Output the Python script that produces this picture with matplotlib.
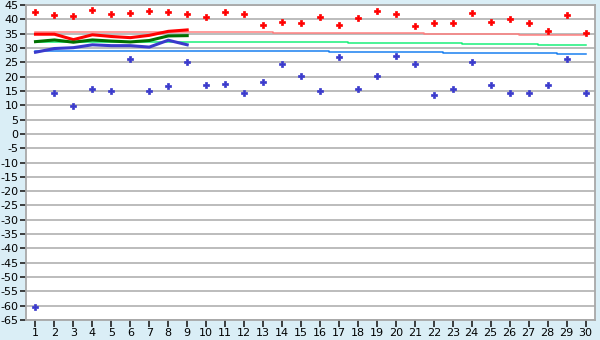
import matplotlib
matplotlib.use("Agg")
import matplotlib.pyplot as plt
import numpy as np

days = list(range(1, 31))
day_labels = [str(d) for d in days]

# daily extremes (markers)
max_pts = [42.4, 41.4, 41.0, 43.1, 41.7, 42.1, 42.8, 42.4, 41.7, 40.7,
           42.4, 41.7, 37.9, 39.0, 38.6, 40.7, 37.9, 40.3, 42.8, 41.7,
           37.6, 38.6, 38.6, 42.1, 39.0, 40.0, 38.6, 35.8, 41.4, 35.1]
min_pts = [-60.6, 14.2, 9.6, 15.5, 14.9, 26.0, 14.9, 16.6, 25.0, 17.0,
           17.3, 14.2, 18.0, 24.3, 20.1, 14.9, 26.7, 15.5, 20.1, 27.1,
           24.3, 13.5, 15.5, 25.0, 17.0, 14.2, 14.2, 17.0, 26.0, 14.2]

# running curves (days 1-9)
curve_days = days[:9]
curve_max = [34.8, 34.8, 32.9, 34.6, 34.0, 33.6, 34.4, 35.8, 36.3]
curve_mean = [32.2, 32.8, 32.0, 32.8, 32.4, 32.1, 32.6, 34.2, 34.3]
curve_min = [28.5, 29.8, 30.1, 31.1, 30.8, 30.8, 30.3, 32.7, 31.1]

# normals (thin step lines)
norm_max = [35.7]*5 + [35.4]*8 + [35.1]*8 + [34.8]*5 + [34.4]*4
norm_mean = [32.0]*17 + [31.6]*6 + [31.3]*4 + [30.9]*3
norm_min = [28.8]*16 + [28.5]*6 + [28.1]*6 + [27.8]*2

yticks = list(range(-65, 50, 5))

bg = "#daeef6"
fig = plt.figure(figsize=(6, 3.4), dpi=100, facecolor=bg)
ax = fig.add_axes([26/600, 1-320/340, (595-26)/600, (320-5)/340])
ax.set_facecolor("white")

ax.plot(days, norm_max, drawstyle="steps-mid", color="#ff8080", lw=1.1, zorder=2)
ax.plot(days, norm_mean, drawstyle="steps-mid", color="#19f07a", lw=1.1, zorder=2)
ax.plot(days, norm_min, drawstyle="steps-mid", color="#1a80f0", lw=1.1, zorder=2)

ax.plot(curve_days, curve_max, color="#ff0000", lw=2.2, zorder=3)
ax.plot(curve_days, curve_mean, color="#007000", lw=2.2, zorder=3)
ax.plot(curve_days, curve_min, color="#3a3acc", lw=2.2, zorder=3)

ax.plot(days, max_pts, ls="none", marker="P", ms=5, color="#ff0000", mec="#ff0000", mew=0.5, zorder=4)
ax.plot(days, min_pts, ls="none", marker="P", ms=5, color="#3a3acc", mec="#3a3acc", mew=0.5, zorder=4)

ax.set_xlim(0.5, 30.5)
ax.set_ylim(-65, 45)
ax.set_yticks(yticks)
ax.set_yticklabels([str(v) for v in yticks])
ax.set_xticks(days)
ax.set_xticklabels(day_labels)
ax.grid(axis="y", color="#b0b0b0", lw=1.2, zorder=1)
ax.set_axisbelow(True)
for s in ax.spines.values():
    s.set_color("#a8a8a8")
    s.set_linewidth(1.3)
ax.tick_params(axis="both", direction="out", length=4, width=1.2, color="#202020",
               labelsize=8, labelcolor="#000000", pad=1.5)
ax.tick_params(axis="x", length=5, pad=1)

fig.savefig("out.png", dpi=100, facecolor=bg)
